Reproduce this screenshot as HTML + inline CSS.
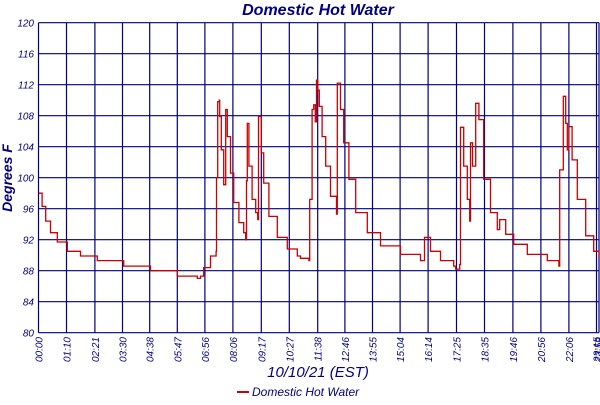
<!DOCTYPE html>
<html><head><meta charset="utf-8"><style>
body{margin:0;background:#fff;width:600px;height:400px;overflow:hidden}
text{font-family:"Liberation Sans",sans-serif;fill:#000080;font-style:italic}
</style></head><body>
<svg id="chart" width="600" height="400" xmlns="http://www.w3.org/2000/svg">
<text x="318" y="15" text-anchor="middle" font-size="16" font-weight="bold">Domestic Hot Water</text>
<text transform="translate(12,178) rotate(-90)" text-anchor="middle" font-size="14" font-weight="bold">Degrees F</text>
<text x="318" y="377" text-anchor="middle" font-size="15">10/10/21 (EST)</text>
<g>
<line x1="237" y1="392" x2="249" y2="392" stroke="#cc0000" stroke-width="2"/>
<text x="252" y="396" font-size="12">Domestic Hot Water</text>
</g>
<g id="grid"></g>
<g id="marks"></g>
</svg>
<script>
const yTicks=[80,84,88,92,96,100,104,108,112,116,120];
const xTickMinutes=[0,70,141,210,278,347,416,486,557,627,698,766,835,904,974,1045,1115,1186,1256,1326,1395];
const xTickLabels=["00:00","01:10","02:21","03:30","04:38","05:47","06:56","08:06","09:17","10:27","11:38","12:46","13:55","15:04","16:14","17:25","18:35","19:46","20:56","22:06","23:15"];
const times=[1,9,18,30,47,72,105,147,213,280,347,397,405,413,430,444,445,448,452,453,457,463,468,472,480,488,501,513,518,520,522,526,534,543,548,550,557,563,576,597,622,647,655,676,678,684,688,692,695,698,702,709,718,730,745,747,755,763,776,793,822,855,905,955,965,980,1005,1038,1043,1053,1055,1063,1072,1078,1080,1085,1093,1101,1113,1130,1147,1153,1168,1188,1222,1272,1301,1303,1312,1318,1322,1326,1334,1347,1368,1388,1403];
const temps=[98.0,96.3,94.4,92.9,91.7,90.5,89.9,89.3,88.6,88.0,87.3,87.0,87.3,88.4,89.9,90.5,100,109.8,110.0,107.9,103.6,99.1,108.8,105.3,100.6,96.8,94.2,92.9,92.0,99.6,107.0,101.5,97.2,95.5,94.6,107.9,103.2,99.3,95.0,92.3,90.8,89.9,89.6,89.3,97.2,108.8,109.4,107.2,112.6,111.3,109.2,105.3,101.5,97.6,95.3,112.2,108.8,104.5,99.8,95.5,92.9,91.2,90.1,89.3,92.3,90.5,89.3,88.6,88.2,88.8,106.5,101.5,97.2,94.4,104.5,101.5,109.6,107.5,99.8,95.5,93.3,94.6,92.7,91.4,90.1,89.3,88.6,101.0,110.5,107.0,103.6,106.6,102.3,97.2,92.5,90.5,89.7];
const L=38.5,R=599,T=22.7,B=332.7;
const xs=m=>Math.min(R,L+m*0.4);
const ys=v=>B-(v-80)*(B-T)/40;
const NS="http://www.w3.org/2000/svg";
const grid=document.getElementById('grid'),marks=document.getElementById('marks');
function mk(tag,attrs,parent){const e=document.createElementNS(NS,tag);for(const k in attrs)e.setAttribute(k,attrs[k]);parent.appendChild(e);return e;}
yTicks.forEach(v=>{
 const l=mk('line',{x1:L,x2:R,y1:ys(v),y2:ys(v),stroke:'#000080','stroke-width':1.2},grid);
 
 
 const t=mk('text',{x:34,y:ys(v)+4,'text-anchor':'end','font-size':10},grid);
 
 
 t.textContent=v;
});
xTickMinutes.forEach((m,i)=>{
 const x=xs(m);
 const l=mk('line',{x1:x,x2:x,y1:T,y2:B,stroke:'#000080','stroke-width':1.2},grid);
 
 
 const t=mk('text',{transform:`translate(${x+4},337) rotate(-90)`,'text-anchor':'end','font-size':10},grid);
 
 
 t.textContent=xTickLabels[i];
});
const rb=mk('line',{x1:R,x2:R,y1:T,y2:B,stroke:'#000080','stroke-width':1.2},grid);


const te=mk('text',{transform:`translate(${R+3},337) rotate(-90)`,'text-anchor':'end','font-size':10},grid);


te.textContent="23:59";
let d='';
times.forEach((m,i)=>{
 const x=xs(m).toFixed(1),y=ys(temps[i]).toFixed(1);
 if(i===0)d+=`M${x},${y}`;else d+=`H${x}V${y}`;
});
const pl=mk('path',{d:d,fill:'none',stroke:'#cc0000','stroke-width':1.3},marks);


</script>
</body></html>
